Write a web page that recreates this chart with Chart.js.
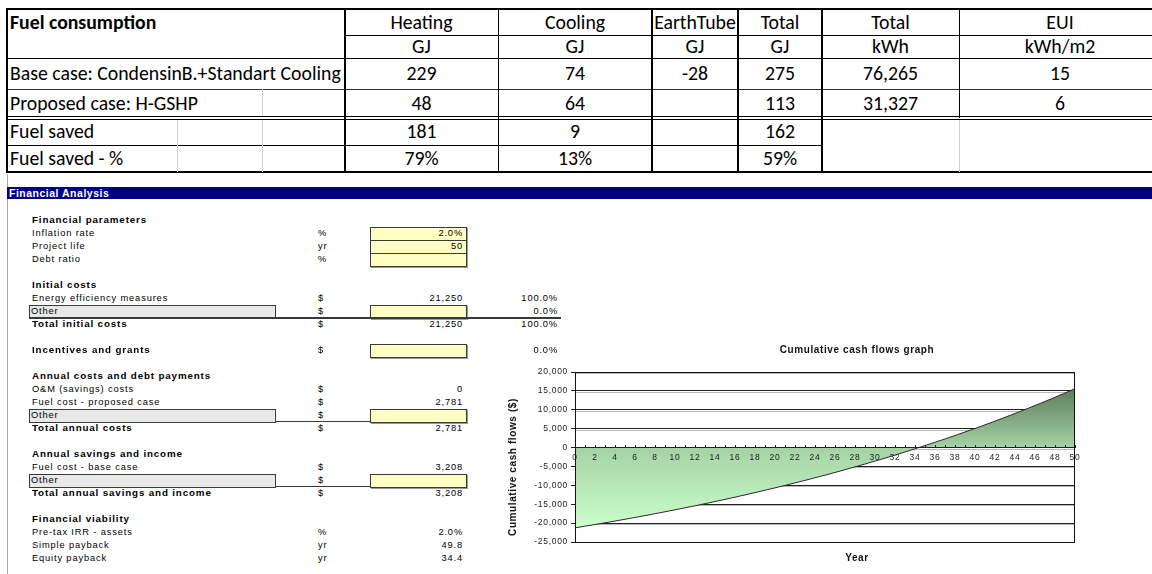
<!DOCTYPE html>
<html>
<head>
<meta charset="utf-8">
<script src="https://cdn.jsdelivr.net/npm/chart.js@4.4.1/dist/chart.umd.min.js"></script>
<style>
  html, body { margin: 0; padding: 0; background: #fff; }
  body { width: 1152px; height: 574px; position: relative; overflow: hidden; }
  .abs { position: absolute; white-space: nowrap; }
  .line { position: absolute; }
  .cell { position: absolute; white-space: nowrap; font-family: Carlito, Lato, sans-serif; color: #000; }
  .fin { font-family: "Liberation Sans", Arial, sans-serif; font-size: 9.3px; letter-spacing: 0.85px;
         color: #000; line-height: 12px; height: 12px; }
  .fin.h { font-weight: bold; font-size: 9.8px; }
  .ybox { position: absolute; background: #ffffc4; border: 1px solid #3a3a3a; box-sizing: border-box;
          box-shadow: 1px 1px 0 #9a9a9a; }
  .gbox { position: absolute; background: #e8e8e8; border: 1px solid #3a3a3a; box-sizing: border-box; }
  #chartWrap { position: absolute; left: 500px; top: 340px; width: 600px; height: 234px; }
  .ctitle { font-family: "Liberation Sans", Arial, sans-serif; font-weight: bold; font-size: 10px;
            letter-spacing: 0.6px; color: #111; }
</style>
</head>
<body>
<div id="chartWrap"><canvas id="cashChart" width="600" height="234"></canvas></div>
<script>
// ---- Chart data ----

const years = [0, 1, 2, 3, 4, 5, 6, 7, 8, 9, 10, 11, 12, 13, 14, 15, 16, 17, 18, 19, 20,
  21, 22, 23, 24, 25, 26, 27, 28, 29, 30, 31, 32, 33, 34, 35, 36, 37, 38, 39, 40,
  41, 42, 43, 44, 45, 46, 47, 48, 49, 50];

const cashFlows = [-21250, -20810, -20370, -19920, -19460, -18980, -18500, -18010, -17510, -17000,
  -16480, -15950, -15410, -14860, -14290, -13720, -13130, -12530, -11920, -11300,
  -10670, -10020, -9360, -8690, -8000, -7300, -6590, -5860, -5110, -4360,
  -3580, -2790, -1990, -1170, -330, 530, 1400, 2280, 3190, 4120,
  5060, 6020, 7000, 8000, 9020, 10060, 11120, 12210, 13310, 14440, 15590];

const yTicks = [-25000, -20000, -15000, -10000, -5000, 0, 5000, 10000, 15000, 20000];

// ---- Fuel consumption table ----

const colX = [7, 345, 498, 652, 738, 822, 959, 1161];
const rowY = [9, 35, 58, 89, 118, 145, 172];

const fuelHead = ['Heating', 'Cooling', 'EarthTube', 'Total', 'Total', 'EUI'];
const fuelUnits = ['GJ', 'GJ', 'GJ', 'GJ', 'kWh', 'kWh/m2'];
const fuelRows = [
  ['Base case: CondensinB.+Standart Cooling', '229', '74', '-28', '275', '76,265', '15'],
  ['Proposed case: H-GSHP', '48', '64', '', '113', '31,327', '6'],
  ['Fuel saved', '181', '9', '', '162', '', ''],
  ['Fuel saved - %', '79%', '13%', '', '59%', '', '']
];

function fitSize(text, family, weight, target) {
  const c = document.createElement('canvas').getContext('2d');
  c.font = weight + ' 20px ' + family;
  return 20 * target / c.measureText(text).width;
}

const calFont = 'Carlito, Lato, sans-serif';
const calSize = fitSize(fuelRows[0][0], calFont, 'normal', 331);

function el(cls, css, text) {
  const d = document.createElement('div');
  d.className = cls;
  Object.assign(d.style, css);
  if (text !== undefined) d.textContent = text;
  document.body.appendChild(d);
  return d;
}

function hline(x1, x2, y, w, color) {
  el('line', { left: x1 + 'px', top: (y - w / 2) + 'px', width: (x2 - x1) + 'px', height: w + 'px', background: color });
}
function vline(x, y1, y2, w, color) {
  el('line', { left: (x - w / 2) + 'px', top: y1 + 'px', width: w + 'px', height: (y2 - y1) + 'px', background: color });
}

function tcell(c0, r, text, bold, left) {
  const x = colX[c0], w = colX[c0 + 1] - x;
  const y = rowY[r], h = rowY[r + 1] - y;
  el('cell', {
    left: (left ? x + 3 : x) + 'px', top: y + 'px', width: (left ? 'auto' : w + 'px'), height: h + 'px',
    lineHeight: h + 'px', textAlign: left ? 'left' : 'center', fontSize: calSize + 'px',
    fontWeight: bold ? 'bold' : 'normal'
  }, text);
}

tcell(0, 0, 'Fuel consumption', true, true);
fuelHead.forEach((t, i) => tcell(i + 1, 0, t));
fuelUnits.forEach((t, i) => tcell(i + 1, 1, t));
fuelRows.forEach((row, r) => {
  tcell(0, r + 2, row[0], false, true);
  row.slice(1).forEach((t, i) => { if (t) tcell(i + 1, r + 2, t); });
});

// grid lines of the table
hline(6, 1161, 9, 2, '#000');
hline(345, 1161, 35, 1, '#000');
hline(7, 1161, 58, 1, '#000');
hline(7, 1161, 89, 1, '#333');
hline(7, 1161, 116.5, 1, '#000');
hline(7, 1161, 119.5, 1.5, '#000');
hline(7, 822, 145, 1, '#000');
hline(6, 1161, 172, 2, '#000');
vline(7, 9, 173, 2, '#000');
vline(345, 9, 173, 2, '#000');
vline(498, 9, 173, 1, '#000');
vline(652, 9, 173, 1.5, '#000');
vline(738, 9, 173, 2, '#000');
vline(822, 9, 173, 2, '#000');
vline(959, 9, 118, 1, '#000');
vline(959, 120, 172, 1, '#cfcfcf');
vline(262, 89, 116, 1, '#cfcfcf');
vline(262, 120, 172, 1, '#cfcfcf');
vline(177, 120, 172, 1, '#cfcfcf');

// ---- Financial analysis block ----

vline(7.5, 174, 574, 1.5, '#a8a8a8');
el('line', { left: '7px', top: '187px', width: '1145px', height: '12px', background: '#000080' });
el('abs fin h', { left: '9px', top: '187px', color: '#fff', lineHeight: '12px', fontSize: '10.5px', letterSpacing: '0.5px' }, 'Financial Analysis');

// [y, label, kind, unit, value, percent, input box]
const finRows = [
  [220, 'Financial parameters', 'h'],
  [233, 'Inflation rate', '', '%', '2.0%', '', true],
  [246, 'Project life', '', 'yr', '50', '', true],
  [259, 'Debt ratio', '', '%', '', '', true],
  [285, 'Initial costs', 'h'],
  [298, 'Energy efficiency measures', '', '$', '21,250', '100.0%', false],
  [311, 'Other', 'o', '$', '', '0.0%', true],
  [324, 'Total initial costs', 'h', '$', '21,250', '100.0%', false],
  [350, 'Incentives and grants', 'h', '$', '', '0.0%', true],
  [376, 'Annual costs and debt payments', 'h'],
  [389, 'O&M (savings) costs', '', '$', '0', '', false],
  [402, 'Fuel cost - proposed case', '', '$', '2,781', '', false],
  [415, 'Other', 'o', '$', '', '', true],
  [428, 'Total annual costs', 'h', '$', '2,781', '', false],
  [454, 'Annual savings and income', 'h'],
  [467, 'Fuel cost - base case', '', '$', '3,208', '', false],
  [480, 'Other', 'o', '$', '', '', true],
  [493, 'Total annual savings and income', 'h', '$', '3,208', '', false],
  [519, 'Financial viability', 'h'],
  [532, 'Pre-tax IRR - assets', '', '%', '2.0%', '', false],
  [545, 'Simple payback', '', 'yr', '49.8', '', false],
  [558, 'Equity payback', '', 'yr', '34.4', '', false]
];

finRows.forEach(([y, label, kind, unit, value, pct, box]) => {
  const top = (y - 6) + 'px';
  if (kind === 'o') {
    el('gbox', { left: '29px', top: (y - 6.5) + 'px', width: '247px', height: '14px' });
  }
  if (box) {
    el('ybox', { left: '370px', top: (y - 6.5) + 'px', width: '97px', height: '14px' });
  }
  el('abs fin' + (kind === 'h' ? ' h' : ''), { left: (kind === 'o' ? 31 : 32) + 'px', top }, label);
  if (unit) el('abs fin', { left: '318px', top }, unit);
  if (value) el('abs fin', { right: (1152 - 463) + 'px', top, textAlign: 'right' }, value);
  if (pct) el('abs fin', { right: (1152 - 558) + 'px', top, textAlign: 'right' }, pct);
});

hline(29, 561, 318, 1.2, '#3a3a3a');
hline(275, 370, 421.5, 1.2, '#3a3a3a');
hline(275, 370, 486.5, 1.2, '#3a3a3a');

// chart titles
el('abs ctitle', { left: '757px', width: '200px', textAlign: 'center', top: '344px', lineHeight: '12px' }, 'Cumulative cash flows graph');
el('abs ctitle', { left: '757px', width: '200px', textAlign: 'center', top: '552px', lineHeight: '12px' }, 'Year');
el('abs ctitle', { left: '413px', width: '200px', textAlign: 'center', top: '461px', lineHeight: '12px',
  transform: 'rotate(-90deg)' }, 'Cumulative cash flows ($)');

// ---- Chart ----

const tickFont = { family: '"Liberation Sans", Arial, sans-serif', size: 8.5 };

function areaGradient(context) {
  const chart = context.chart;
  if (!chart.chartArea) return null;
  const y = chart.scales.y;
  const top = y.getPixelForValue(Math.max(...cashFlows));
  const bottom = y.getPixelForValue(Math.min(...cashFlows));
  const g = chart.ctx.createLinearGradient(0, top, 0, bottom);
  g.addColorStop(0, '#5c7c5c');
  g.addColorStop(0.42, '#a4d2a4');
  g.addColorStop(1, '#ccffcc');
  return g;
}

const framePlugin = {
  id: 'frame',
  beforeDraw(chart) {
    chart.ctx.letterSpacing = '0.7px';
  },
  // soft grey shadow under each horizontal gridline, as in the spreadsheet chart
  beforeDatasetsDraw(chart) {
    const { ctx, chartArea: a, scales } = chart;
    ctx.save();
    ctx.strokeStyle = '#b8b8b8';
    ctx.lineWidth = 1;
    scales.y.ticks.forEach(t => {
      const py = Math.round(scales.y.getPixelForValue(t.value)) + 1.5;
      if (py > a.bottom - 1) return;
      ctx.beginPath();
      ctx.moveTo(a.left, py);
      ctx.lineTo(a.right, py);
      ctx.stroke();
    });
    ctx.restore();
  },
  afterDraw(chart) {
    const { ctx, chartArea: a } = chart;
    ctx.save();
    ctx.strokeStyle = '#111';
    ctx.lineWidth = 1;
    ctx.strokeRect(Math.round(a.left) + 0.5, Math.round(a.top) + 0.5, Math.round(a.right - a.left) - 1, Math.round(a.bottom - a.top));
    ctx.restore();
  }
};

new Chart(document.getElementById('cashChart'), {
  type: 'line',
  data: {
    datasets: [{
      data: years.map((x, i) => ({ x, y: cashFlows[i] })),
      borderColor: '#2b2b2b',
      borderWidth: 1,
      pointRadius: 0,
      tension: 0,
      fill: 'origin',
      backgroundColor: areaGradient
    }]
  },
  options: {
    responsive: false,
    animation: false,
    devicePixelRatio: 1,
    layout: { padding: { left: 0, right: 25, top: 32, bottom: 32 } },
    plugins: { legend: { display: false }, tooltip: { enabled: false } },
    scales: {
      x: {
        type: 'linear',
        min: 0,
        max: 50,
        position: { y: 0 },
        afterBuildTicks: s => { s.ticks = years.map(v => ({ value: v })); },
        afterFit: s => { s.height = 0; },
        grid: { drawOnChartArea: false, drawTicks: true, tickLength: -3, color: '#222', z: 1 },
        border: { display: true, color: '#222', width: 1, z: 1 },
        ticks: {
          z: 1, autoSkip: false, maxRotation: 0, padding: 8, color: '#222', font: tickFont,
          callback: v => (v % 2 === 0 ? String(v) : '')
        }
      },
      y: {
        min: -25000,
        max: 20000,
        afterBuildTicks: s => { s.ticks = yTicks.map(v => ({ value: v })); },
        afterFit: s => { s.width = 75; },
        grid: { color: '#222', lineWidth: 1, tickLength: 4 },
        border: { color: '#222' },
        ticks: { padding: 3, color: '#222', font: tickFont, callback: v => v.toLocaleString('en-US') }
      }
    }
  },
  plugins: [framePlugin]
});
</script>
</body>
</html>
